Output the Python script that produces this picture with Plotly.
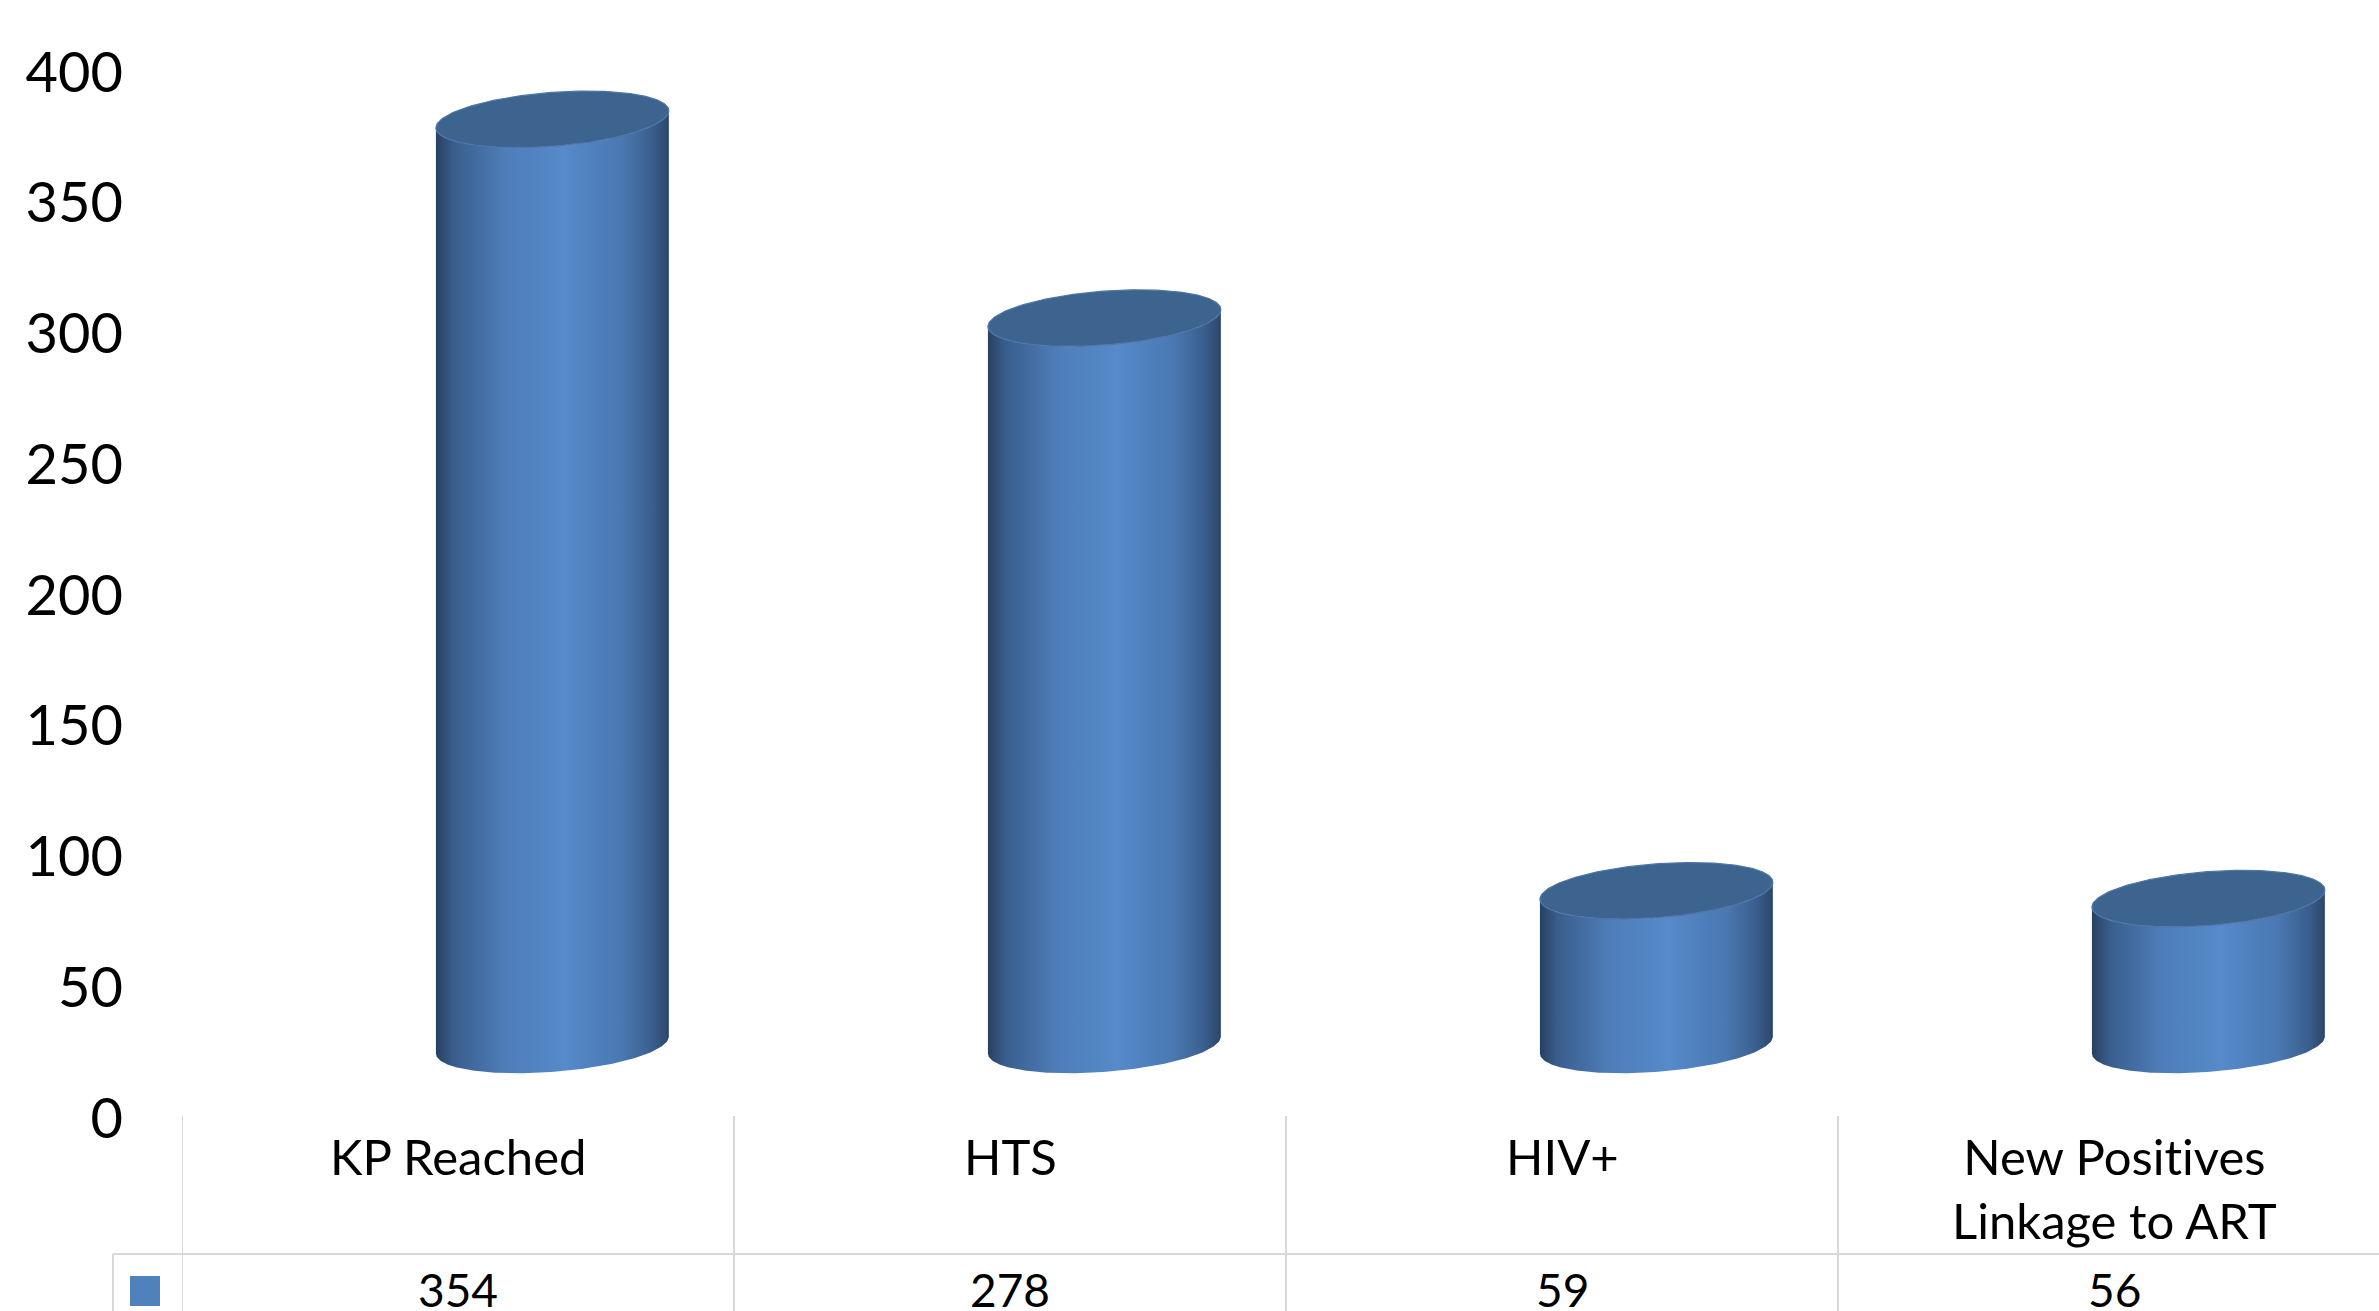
import numpy as np
import plotly.graph_objects as go

# ---- data ----
categories = ["KP Reached", "HTS", "HIV+", "New Posit\u200cives<br>Linkage to ART"]
values = [354, 278, 59, 56]
y_ticks = [0, 50, 100, 150, 200, 250, 300, 350, 400]
series_color = "#4F81BD"

# ---- layout constants (pixels / axis units) ----
W, H = 2379, 1311
ML = 182
PLOT_W = W - ML
PX_PER_UNIT = 2.615
Y_ZERO_PX = 1118
Y1 = 400 + 72 / PX_PER_UNIT
Y0 = -(H - Y_ZERO_PX) / PX_PER_UNIT
X0 = -0.5
X1 = X0 + PLOT_W / 552.0


def py2y(py):
    return (Y_ZERO_PX - py) / PX_PER_UNIT


def px2paper(px):
    return (px - ML) / PLOT_W


def py2paper(py):
    return (H - py) / H


# 3-D look of the cylinders (styling constants)
FLOOR = 27.9     # depth offset of floor in axis units
DX = 0.171       # depth shift in category units
RX = 0.211       # cylinder radius (category units)
EH = 10.3        # ellipse half height (axis units)
ES = 3.25        # ellipse tilt (axis units)

body_scale = [
    [0.0, "rgb(40,64,98)"],
    [0.08, "rgb(58,95,142)"],
    [0.3, "rgb(78,125,185)"],
    [0.55, "rgb(86,138,202)"],
    [0.8, "rgb(74,120,178)"],
    [0.93, "rgb(58,94,140)"],
    [1.0, "rgb(44,70,106)"],
]

fig = go.Figure()
t_front = np.linspace(np.pi, 2 * np.pi, 120)
t_full = np.linspace(0, 2 * np.pi, 240)

for i, v in enumerate(values):
    cx = i + DX
    yb = FLOOR
    yt = FLOOR + v
    bx = cx + RX * np.cos(t_front)
    by = yb + EH * np.sin(t_front) + ES * np.cos(t_front)
    tx = (cx + RX * np.cos(t_front))[::-1]
    ty = (yt + EH * np.sin(t_front) + ES * np.cos(t_front))[::-1]
    xs = np.concatenate([bx, tx, bx[:1]])
    ys = np.concatenate([by, ty, by[:1]])
    fig.add_trace(go.Scatter(
        x=xs, y=ys, mode="lines", fill="toself",
        line=dict(width=0, color="rgba(0,0,0,0)"),
        fillgradient=dict(type="horizontal", colorscale=body_scale),
        hoverinfo="skip", showlegend=False,
    ))
    ex = cx + RX * np.cos(t_full)
    ey = yt + EH * np.sin(t_full) + ES * np.cos(t_full)
    fig.add_trace(go.Scatter(
        x=ex, y=ey, mode="lines", fill="toself",
        fillcolor="rgb(61,99,143)",
        line=dict(width=1.2, color="rgb(78,118,168)"),
        hoverinfo="skip", showlegend=False,
    ))

shapes = []
grid = dict(color="#D9D9D9", width=2)
# vertical table lines at category boundaries
for k in range(len(categories) + 1):
    shapes.append(dict(type="line", xref="x", yref="paper",
                       x0=k - 0.5, x1=k - 0.5,
                       y0=py2paper(1116), y1=0, line=grid))
# horizontal line between labels and values
shapes.append(dict(type="line", xref="paper", yref="paper",
                   x0=px2paper(113), x1=1, y0=py2paper(1254), y1=py2paper(1254),
                   line=grid))
shapes.append(dict(type="line", xref="paper", yref="paper",
                   x0=px2paper(113), x1=px2paper(113), y0=py2paper(1254), y1=0,
                   line=grid))
# legend key
shapes.append(dict(type="rect", xref="paper", yref="paper",
                   x0=px2paper(130), x1=px2paper(160),
                   y0=py2paper(1306), y1=py2paper(1276),
                   fillcolor=series_color, line=dict(width=0)))

annotations = []
FONT = "Lato, Calibri, Carlito, sans-serif"
for i, c in enumerate(categories):
    annotations.append(dict(x=i, y=py2y(1125), xref="x", yref="y",
                            text=c, showarrow=False, yanchor="top",
                            font=dict(family=FONT, size=49, color="black")))
    annotations.append(dict(x=i, y=py2y(1289), xref="x", yref="y",
                            text=str(values[i]), showarrow=False, yanchor="middle",
                            font=dict(family=FONT, size=46, color="black")))

fig.update_layout(
    width=W, height=H,
    margin=dict(l=ML, r=0, t=0, b=0),
    paper_bgcolor="white", plot_bgcolor="white",
    xaxis=dict(range=[X0, X1], visible=False, fixedrange=True),
    yaxis=dict(range=[Y0, Y1], tickvals=y_ticks, ticktext=[str(t) for t in y_ticks],
               showgrid=False, zeroline=False, showline=False, ticks="",
               ticklabelstandoff=58,
               tickfont=dict(family=FONT, size=56, color="black"), fixedrange=True),
    shapes=shapes, annotations=annotations,
    showlegend=False,
)

fig.write_html("out.html")
